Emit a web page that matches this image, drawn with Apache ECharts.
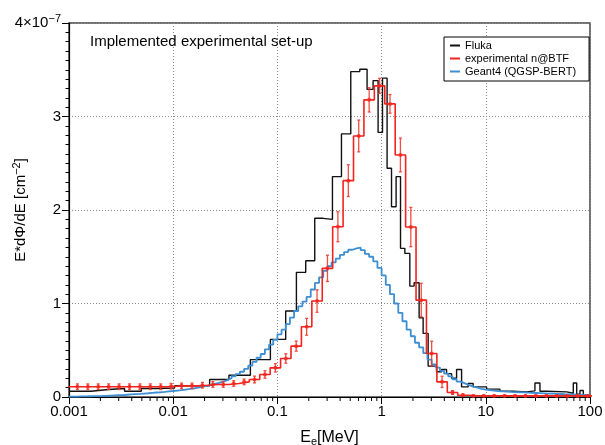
<!DOCTYPE html>
<html><head><meta charset="utf-8">
<script src="https://cdn.jsdelivr.net/npm/echarts@6/dist/echarts.min.js"></script>
<style>html,body{margin:0;padding:0;background:#fff}#c{width:605px;height:445px}</style>
</head><body><div id="c"></div>
<script>
// ---- data (values in units of 1e-7 cm^-2, energies in MeV) ----
const flukaEdges = [0.001, 0.001634, 0.002395, 0.003413, 0.004939, 0.007082, 0.01031, 0.02237, 0.03428, 0.05504,
  0.08566, 0.1201, 0.1522, 0.1870, 0.2282, 0.2742, 0.3375, 0.4119, 0.5059, 0.6175,
  0.7256, 0.8286, 0.9256, 1.020, 1.129, 1.245, 1.378, 1.519, 1.671, 1.866,
  2.052, 2.292, 2.504, 2.797, 3.368, 3.763, 4.202, 4.694, 5.243, 5.855,
  6.774, 7.568, 10.18, 13.66, 18.34, 24.65, 29.62, 33.09, 38.37, 59.74,
  69.14, 74.54, 80.14, 86.21, 100];
const flukaValues = [0.062, 0.08, 0.091, 0.062, 0.091, 0.097, 0.12, 0.187, 0.233, 0.40,
  0.616, 0.92, 1.333, 1.457, 1.911, 1.90, 2.357, 2.814, 3.48, 3.506,
  3.29, 3.384, 2.83, 3.41, 2.447, 2.035, 2.357, 1.59, 1.536, 1.186,
  1.222, 0.847, 0.68, 0.33, 0.27, 0.294, 0.25, 0.20, 0.294, 0.108,
  0.145, 0.108, 0.084, 0.062, 0.055, 0.066, 0.15, 0.062, 0.055, 0.04,
  0.15, 0.03, 0.07, 0.02];

const expFirstEdge = 0.0008521;
const expBinsPerDecade = 10;
const expValues = [0.11, 0.11, 0.11, 0.11, 0.11, 0.11, 0.11, 0.11, 0.11, 0.11,
  0.115, 0.119, 0.119, 0.126, 0.134, 0.134, 0.145, 0.162, 0.187, 0.241,
  0.312, 0.412, 0.544, 0.751, 1.026, 1.376, 1.821, 2.314, 2.792, 3.178,
  3.328, 3.135, 2.589, 1.818, 1.036, 0.466, 0.162, 0.048, 0.019, 0.012,
  0.012, 0.012, 0.012, 0.012, 0.012, 0.012, 0.012, 0.012, 0.012, 0.012, 0.012];
const expErrors = [0.03, 0.03, 0.03, 0.03, 0.03, 0.03, 0.03, 0.03, 0.03, 0.03,
  0.03, 0.03, 0.03, 0.03, 0.03, 0.03, 0.03, 0.03, 0.036, 0.04,
  0.045, 0.05, 0.054, 0.09, 0.12, 0.14, 0.16, 0.17, 0.17, 0.13,
  0.08, 0.10, 0.18, 0.21, 0.18, 0.13, 0.06, 0.02, 0.015, 0.01,
  0.01, 0.01, 0.01, 0.01, 0.01, 0.01, 0.01, 0.01, 0.01, 0.01, 0.01];

const g4FirstEdge = 0.001;
const g4BinsPerDecade = 25;
const g4Values = [0.005, 0.005, 0.006, 0.007, 0.008, 0.009, 0.010, 0.011, 0.013, 0.015,
  0.017, 0.019, 0.021, 0.024, 0.027, 0.030, 0.033, 0.037, 0.040, 0.044,
  0.048, 0.051, 0.055, 0.060, 0.064, 0.069, 0.074, 0.080, 0.086, 0.093,
  0.100, 0.108, 0.118, 0.128, 0.140, 0.152, 0.165, 0.180, 0.200, 0.222,
  0.245, 0.270, 0.300, 0.335, 0.375, 0.42, 0.46, 0.51, 0.56, 0.61,
  0.67, 0.72, 0.78, 0.85, 0.92, 0.97, 1.02, 1.07, 1.15, 1.22,
  1.28, 1.35, 1.40, 1.44, 1.48, 1.52, 1.55, 1.575, 1.59, 1.597,
  1.57, 1.53, 1.50, 1.45, 1.38, 1.30, 1.20, 1.10, 1.00, 0.90,
  0.81, 0.72, 0.65, 0.58, 0.53, 0.47, 0.40, 0.35, 0.315, 0.28,
  0.25, 0.22, 0.19, 0.165, 0.145, 0.127, 0.112, 0.10, 0.088, 0.080,
  0.074, 0.069, 0.064, 0.061, 0.058, 0.055, 0.053, 0.051, 0.049, 0.047,
  0.045, 0.043, 0.041, 0.039, 0.037, 0.036, 0.034, 0.032, 0.030, 0.029,
  0.027, 0.025, 0.023, 0.021, 0.019];

const xTickLabels = ['0.001', '0.01', '0.1', '1', '10', '100'];
const xMinorTicks = [2, 3, 4, 5, 6, 7, 8, 9];
const yTickLabels = ['0', '1', '2', '3', '4×10'];
const yExponent = '−7';
const legendNames = ['Fluka', 'experimental n@BTF', 'Geant4 (QGSP-BERT)'];
const titleText = 'Implemented experimental set-up';

// ---- helpers ----
function logEdges(first, perDecade, nBins) {
  const e = [];
  for (let k = 0; k <= nBins; k++) e.push(first * Math.pow(10, k / perDecade));
  return e;
}
function stepPoints(edges, vals) {
  const pts = [];
  for (let i = 0; i < vals.length; i++) {
    pts.push([edges[i], vals[i]]);
    pts.push([edges[i + 1], vals[i]]);
  }
  return pts;
}
const expEdges = logEdges(expFirstEdge, expBinsPerDecade, expValues.length);
const expCenters = expValues.map((v, i) => Math.sqrt(expEdges[i] * expEdges[i + 1]));
const g4Edges = logEdges(g4FirstEdge, g4BinsPerDecade, g4Values.length);

const minorVals = [];
xTickLabels.slice(0, -1).forEach(l => xMinorTicks.forEach(m => minorVals.push(m * parseFloat(l))));

const FONT = 'Liberation Sans, Arial, Helvetica, sans-serif';
const chart = echarts.init(document.getElementById('c'), null, {renderer: 'canvas'});
chart.setOption({
  animation: false,
  backgroundColor: '#fff',
  textStyle: {fontFamily: FONT},
  title: {text: titleText, left: 90, top: 34, padding: 0,
    textStyle: {fontSize: 15, fontWeight: 'normal', color: '#000', fontFamily: FONT}},
  legend: {
    data: legendNames, orient: 'vertical', left: 444, top: 37,
    itemWidth: 10, itemHeight: 2, itemGap: 2, icon: 'rect',
    padding: [3, 13, 4, 6], borderColor: '#000', borderWidth: 1, backgroundColor: '#fff',
    textStyle: {fontSize: 11, color: '#000', fontFamily: FONT}
  },
  grid: {left: 69, right: 15, top: 23, bottom: 48, show: true, borderColor: '#444', borderWidth: 1.5,
    outerBoundsMode: 'none', containLabel: false},
  xAxis: {
    type: 'log', logBase: 10, min: 0.001, max: 100,
    axisLine: {show: true, lineStyle: {color: '#000', width: 1.2}},
    axisTick: {show: true, inside: false, length: 7, lineStyle: {color: '#000'}},
    axisLabel: {fontSize: 15, color: '#000', margin: 7, fontFamily: FONT,
      formatter: v => xTickLabels[Math.round(Math.log10(v)) + 3]},
    splitLine: {show: true, lineStyle: {color: '#888', type: [1, 2], width: 1}},
    name: 'E{s|e}[MeV]', nameLocation: 'middle', nameGap: 31, nameMoveOverlap: false,
    nameTextStyle: {fontSize: 16, color: '#000', fontFamily: FONT,
      rich: {s: {fontSize: 11, verticalAlign: 'bottom', padding: [8, 0, 0, 0], fontFamily: FONT}}}
  },
  yAxis: {
    type: 'value', min: 0, max: 4, interval: 1,
    axisLine: {show: true, lineStyle: {color: '#000', width: 1.2}},
    axisTick: {show: true, inside: false, length: 7, lineStyle: {color: '#000'}},
    minorTick: {show: true, splitNumber: 10, length: 3.5, lineStyle: {color: '#000'}},
    axisLabel: {fontSize: 15, color: '#000', margin: 8, fontFamily: FONT,
      formatter: v => v === 4 ? '{a|' + yTickLabels[4] + '}{s|' + yExponent + '}' : yTickLabels[v],
      rich: {a: {fontSize: 15, fontFamily: FONT, color: '#000'},
             s: {fontSize: 11, fontFamily: FONT, color: '#000', verticalAlign: 'top', padding: [0, 0, 9, 0]}}},
    splitLine: {show: true, lineStyle: {color: '#888', type: [1, 2], width: 1}},
    name: 'E*dΦ/dE [cm{s|−2}]', nameLocation: 'middle', nameGap: 38, nameMoveOverlap: false,
    nameTextStyle: {fontSize: 15, color: '#000', fontFamily: FONT,
      rich: {s: {fontSize: 11, fontFamily: FONT, verticalAlign: 'top', padding: [0, 0, 9, 0]}}}
  },
  series: [
    {name: legendNames[0], type: 'line', data: stepPoints(flukaEdges, flukaValues), symbol: 'none',
      clip: true, lineStyle: {color: '#111', width: 1.4}, itemStyle: {color: '#111'}, z: 2},
    {name: legendNames[2], type: 'line', data: stepPoints(g4Edges, g4Values), symbol: 'none',
      clip: true, lineStyle: {color: '#3c8fd2', width: 1.8}, itemStyle: {color: '#3c8fd2'}, z: 3},
    {name: legendNames[1], type: 'line', data: stepPoints(expEdges, expValues), symbol: 'none',
      clip: true, lineStyle: {color: '#f2231c', width: 1.6}, itemStyle: {color: '#f2231c'}, z: 4},
    {name: legendNames[1], type: 'custom', clip: true, z: 5,
      data: expCenters.map((c, i) => [c, expValues[i], expErrors[i]]),
      renderItem: (params, api) => {
        const x = api.value(0), y = api.value(1), e = api.value(2);
        const lo = api.coord([x, Math.max(0, y - e)]);
        const hi = api.coord([x, y + e]);
        const cap = 1.5;
        const st = {stroke: '#f03a30', lineWidth: 1.3, opacity: 0.9};
        return {type: 'group', children: [
          {type: 'line', shape: {x1: lo[0], y1: lo[1], x2: hi[0], y2: hi[1]}, style: st},
          {type: 'line', shape: {x1: lo[0] - cap, y1: lo[1], x2: lo[0] + cap, y2: lo[1]}, style: st},
          {type: 'line', shape: {x1: hi[0] - cap, y1: hi[1], x2: hi[0] + cap, y2: hi[1]}, style: st}
        ]};
      }},
    {name: legendNames[1], type: 'scatter', clip: true, z: 6,
      data: expCenters.map((c, i) => [c, expValues[i]]),
      symbol: 'circle', symbolSize: 4, itemStyle: {color: '#f2231c'}},
    {name: 'minorTicks', type: 'custom', clip: false, silent: true, z: 1,
      data: minorVals.map(v => [v, 0]),
      renderItem: (params, api) => {
        const p = api.coord([api.value(0), api.value(1)]);
        return {type: 'line', shape: {x1: p[0], y1: p[1], x2: p[0], y2: p[1] + 4},
          style: {stroke: '#000', lineWidth: 1}};
      }}
  ]
});
</script></body></html>
